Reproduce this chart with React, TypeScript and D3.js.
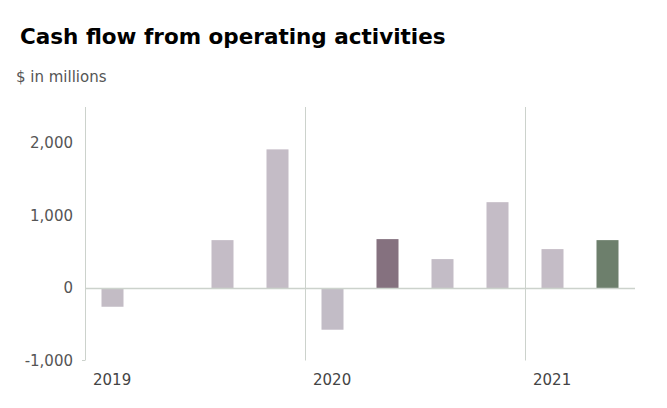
import React, { useEffect, useRef } from 'react'
import * as d3 from 'd3'

const quarters = ['2019Q1', '2019Q2', '2019Q3', '2019Q4', '2020Q1', '2020Q2', '2020Q3', '2020Q4', '2021Q1', '2021Q2']
const values = [-258, 0, 662, 1915, -575, 676, 400, 1186, 538, 662]
const barColors = ['#c3bcc5', '#c3bcc5', '#c4bcc6', '#c4bcc6', '#c2bcc6', '#85717f', '#c3bcc6', '#c4bcc6', '#c4bcc6', '#6d7f6c']
const years = ['2019', '2020', '2021']
const yTicks = [-1000, 0, 1000, 2000]

const W = 667
const H = 408
const FONT = 'DejaVu Sans, sans-serif'

const App = () => {
  const ref = useRef<SVGSVGElement | null>(null)

  useEffect(() => {
    const svg = d3.select(ref.current)
    svg.selectAll('*').remove()

    const x = d3.scaleBand().domain(quarters).range([85, 635]).paddingInner(0.6).paddingOuter(0.3)
    const y = d3.scaleLinear().domain([-1000, 2500]).range([360.5, 107])
    const step = x.step()
    const fmt = (d: number) => d3.format(',')(d).replace('−', '-')

    // titles
    svg.append('text')
      .attr('x', 20).attr('y', 44)
      .attr('font-family', FONT).attr('font-weight', 700)
      .attr('font-size', 21.5).attr('fill', '#000')
      .text('Cash flow from operating activities')
    svg.append('text')
      .attr('x', 16).attr('y', 82)
      .attr('font-family', FONT)
      .attr('font-size', 15).attr('fill', '#555')
      .text('$ in millions')

    // year separators
    years.forEach((yr, i) => {
      const x0 = 85 + i * 4 * step
      svg.append('line')
        .attr('x1', x0 + 0.5).attr('x2', x0 + 0.5)
        .attr('y1', y(2500)).attr('y2', y(-1000))
        .attr('stroke', '#ccd2cc').attr('stroke-width', 1)
      svg.append('text')
        .attr('x', x0 + 8).attr('y', 385)
        .attr('font-family', FONT)
        .attr('font-size', 15).attr('fill', '#444')
        .text(yr)
    })

    // small tick at the foot of the axis
    svg.append('line')
      .attr('x1', 82).attr('x2', 85)
      .attr('y1', y(-1000)).attr('y2', y(-1000))
      .attr('stroke', '#ccd2cc')

    // y tick labels
    svg.selectAll('.ytick')
      .data(yTicks)
      .enter()
      .append('text')
      .attr('class', 'ytick')
      .attr('x', 73)
      .attr('y', (d) => y(d) + 5)
      .attr('text-anchor', 'end')
      .attr('font-family', FONT)
      .attr('font-size', 15).attr('fill', '#555')
      .text((d) => fmt(d))

    // bars
    svg.selectAll('.bar')
      .data(values)
      .enter()
      .append('rect')
      .attr('class', 'bar')
      .attr('x', (d, i) => x(quarters[i]) as number)
      .attr('width', x.bandwidth())
      .attr('y', (d) => y(Math.max(0, d)))
      .attr('height', (d) => Math.abs(y(d) - y(0)))
      .attr('fill', (d, i) => barColors[i])

    // zero line
    svg.append('line')
      .attr('x1', 85).attr('x2', 635)
      .attr('y1', y(0) + 0.5).attr('y2', y(0) + 0.5)
      .attr('stroke', '#ccd2cc').attr('stroke-width', 1.5)

    return () => {
      svg.selectAll('*').remove()
    }
  }, [])

  return (
    <svg
      ref={ref}
      width={W}
      height={H}
      style={{ position: 'absolute', left: 0, top: 0, background: '#fff' }}
    />
  )
}

export default App
